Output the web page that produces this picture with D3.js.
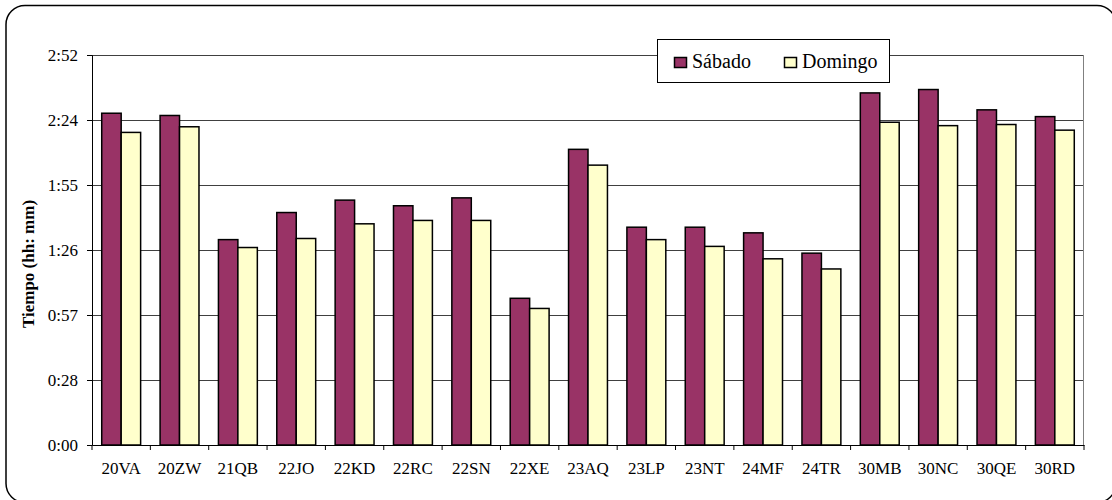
<!DOCTYPE html>
<html>
<head>
<meta charset="utf-8">
<script src="https://cdn.jsdelivr.net/npm/d3@7"></script>
<style>
  body { margin: 0; background: #fff; }
  svg { display: block; }
  svg text { font-family: "Liberation Serif", "Times New Roman", serif; }
</style>
</head>
<body>
<svg id="chart" width="1112" height="500"></svg>
<script>
// tiempos en minutos
var categories = ['20VA', '20ZW', '21QB', '22JO', '22KD', '22RC', '22SN', '22XE', '23AQ',
  '23LP', '23NT', '24MF', '24TR', '30MB', '30NC', '30QE', '30RD'];
var sabado = [147, 146, 91, 103, 108.5, 106, 109.5, 65, 131, 96.5, 96.5, 94, 85, 156, 157.5, 148.5, 145.5];
var domingo = [138.5, 141, 87.5, 91.5, 98, 99.5, 99.5, 60.5, 124, 91, 88, 82.5, 78, 143, 141.5, 142, 139.5];
var seriesNames = ['Sábado', 'Domingo'];
var seriesColors = ['#993366', '#FFFFCC'];
var yTicks = [0, 28.8, 57.6, 86.4, 115.2, 144, 172.8];

(function () {
  var plotLeft = 92, plotRight = 1084, plotTop = 55, plotBottom = 445;
  var serif = '"Liberation Serif", "Times New Roman", serif';

  var svgRoot = d3.select('#chart');

  var fmtTime = function (m) {
    var h = Math.floor(m / 60 + 1e-9);
    var mm = Math.floor(m - h * 60 + 1e-9);
    return h + ':' + (mm < 10 ? '0' : '') + mm;
  };

  var x = d3.scaleBand().domain(categories).range([plotLeft, plotRight]).padding(0);
  var xSub = d3.scaleBand().domain(seriesNames).range([0, x.bandwidth()])
    .paddingInner(0).paddingOuter(0.5);
  var y = d3.scaleLinear().domain([0, 172.8]).range([plotBottom, plotTop]);

  // marco exterior
  svgRoot.append('rect')
    .attr('x', 6).attr('y', 5.5)
    .attr('width', 1110).attr('height', 497)
    .attr('rx', 19).attr('ry', 19)
    .attr('fill', 'none')
    .attr('stroke', '#000')
    .attr('stroke-width', 1.5);

  // lineas de division
  svgRoot.append('g')
    .selectAll('line')
    .data(yTicks.slice(1))
    .enter()
    .append('line')
    .attr('x1', plotLeft).attr('x2', plotRight)
    .attr('y1', function (d) { return Math.round(y(d)) + 0.5; })
    .attr('y2', function (d) { return Math.round(y(d)) + 0.5; })
    .attr('stroke', '#404040');

  svgRoot.append('line')
    .attr('x1', plotRight - 0.5).attr('x2', plotRight - 0.5)
    .attr('y1', plotTop).attr('y2', plotBottom)
    .attr('stroke', '#808080');

  // barras
  var data = categories.map(function (c, i) {
    return { cat: c, values: [sabado[i], domingo[i]] };
  });

  var groups = svgRoot.append('g')
    .selectAll('g')
    .data(data)
    .enter()
    .append('g')
    .attr('transform', function (d) { return 'translate(' + x(d.cat) + ',0)'; });

  groups.selectAll('rect')
    .data(function (d) {
      return d.values.map(function (v, j) { return { key: seriesNames[j], value: v, color: seriesColors[j] }; });
    })
    .enter()
    .append('rect')
    .attr('x', function (d) { return xSub(d.key); })
    .attr('y', function (d) { return y(d.value); })
    .attr('width', xSub.bandwidth())
    .attr('height', function (d) { return plotBottom - y(d.value); })
    .attr('fill', function (d) { return d.color; })
    .attr('stroke', '#000')
    .attr('stroke-width', 1.5);

  // eje y
  var yAxis = svgRoot.append('g')
    .attr('transform', 'translate(' + plotLeft + ',0)')
    .call(d3.axisLeft(y).tickValues(yTicks).tickFormat(fmtTime).tickSize(5).tickPadding(9));
  yAxis.attr('font-family', null);
  yAxis.select('.domain').attr('stroke', '#000');
  yAxis.selectAll('text')
    .style('font-size', '17px')
    .style('font-family', serif)
    .attr('fill', '#000');

  // eje x
  var xAxis = svgRoot.append('g')
    .attr('transform', 'translate(0,' + plotBottom + ')')
    .call(d3.axisBottom(x).tickSize(0).tickPadding(17));
  xAxis.attr('font-family', null);
  xAxis.select('.domain').attr('stroke', '#000');
  xAxis.selectAll('text')
    .style('font-size', '17px')
    .style('font-family', serif)
    .attr('fill', '#000');

  svgRoot.append('g')
    .selectAll('line')
    .data(categories.map(function (c) { return x(c); }).concat([plotRight]))
    .enter()
    .append('line')
    .attr('x1', function (d) { return d; })
    .attr('x2', function (d) { return d; })
    .attr('y1', plotBottom).attr('y2', plotBottom + 5)
    .attr('stroke', '#000');

  // titulo eje y
  svgRoot.append('text')
    .attr('transform', 'translate(34,264) rotate(-90)')
    .attr('text-anchor', 'middle')
    .style('font-family', serif)
    .style('font-size', '17px')
    .style('font-weight', 'bold')
    .text('Tiempo (hh: mm)');

  // leyenda
  var legend = svgRoot.append('g');
  legend.append('rect')
    .attr('x', 657.5).attr('y', 39.5)
    .attr('width', 232).attr('height', 43)
    .attr('fill', '#fff')
    .attr('stroke', '#000');

  var legendX = [674, 784];
  seriesNames.forEach(function (name, i) {
    legend.append('rect')
      .attr('x', legendX[i] + 0.5).attr('y', 57.5)
      .attr('width', 12).attr('height', 10)
      .attr('fill', seriesColors[i])
      .attr('stroke', '#000')
      .attr('stroke-width', 1.5);
    legend.append('text')
      .attr('x', legendX[i] + 18)
      .attr('y', 68)
      .style('font-family', serif)
      .style('font-size', '20px')
      .text(name);
  });
})();
</script>
</body>
</html>
